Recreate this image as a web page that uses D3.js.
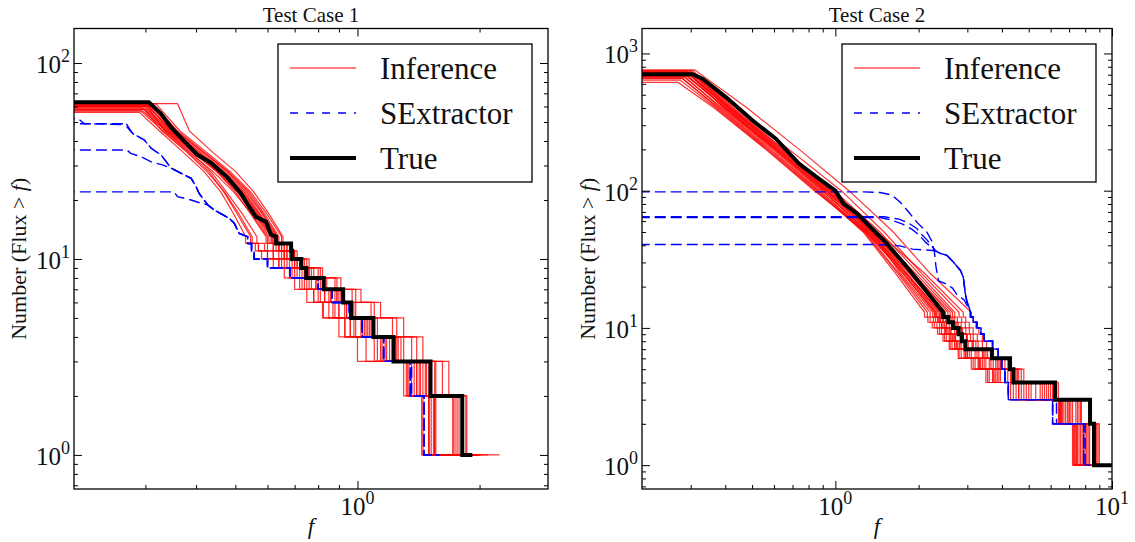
<!DOCTYPE html>
<html>
<head>
<meta charset="utf-8">
<script src="https://cdn.jsdelivr.net/npm/d3@7"></script>
<style>
  body { margin: 0; background: #fff; }
  svg text { font-family: "Liberation Serif", "Times New Roman", serif; fill: #111; }
</style>
</head>
<body>
<div id="chart"></div>
<script>
// ---------- data: Test Case 1 ----------
// heads: [flux, N] points of the smooth upper part, ending at N = 13
// tails: flux where each integer level 12, 11, ..., 1 ends
var case1TrueHead = [[0.1,63],[0.306,63],[0.328,55],[0.347,47],[0.378,39],[0.403,34],[0.435,31],[0.479,26],[0.516,21.6],[0.536,19],[0.562,16.4],[0.595,15.5],[0.612,13.3],[0.63,13]]
var case1TrueTail = [0.686,0.69,0.727,0.748,0.826,0.922,0.965,1.095,1.227,1.514,1.813,1.92]

var case1InferenceHeads = [
  [[0.1,62],[0.300,62],[0.335,45],[0.385,35],[0.440,28],[0.495,22],[0.548,17],[0.600,13]],
  [[0.1,61],[0.305,61],[0.345,45],[0.400,35],[0.455,28],[0.510,22],[0.560,17],[0.615,13]],
  [[0.1,60],[0.310,60],[0.352,45],[0.410,35],[0.470,28],[0.525,22],[0.575,17],[0.630,13]],
  [[0.1,59],[0.295,59],[0.330,45],[0.380,35],[0.425,28],[0.470,22],[0.510,17],[0.550,13]],
  [[0.1,61],[0.315,61],[0.360,45],[0.420,35],[0.480,28],[0.540,22],[0.590,17],[0.640,13]],
  [[0.1,58],[0.300,58],[0.340,45],[0.395,35],[0.450,28],[0.500,22],[0.545,17],[0.595,13]],
  [[0.1,56],[0.290,56],[0.325,45],[0.372,35],[0.418,28],[0.460,22],[0.495,17],[0.530,13]],
  [[0.1,62],[0.360,62],[0.385,45],[0.440,35],[0.500,28],[0.555,22],[0.605,17],[0.655,13]],
  [[0.1,60],[0.305,60],[0.348,45],[0.405,35],[0.462,28],[0.518,22],[0.568,17],[0.622,13]],
  [[0.1,59],[0.300,59],[0.342,45],[0.398,35],[0.452,28],[0.508,22],[0.558,17],[0.612,13]],
  [[0.1,61],[0.310,61],[0.355,45],[0.415,35],[0.475,28],[0.530,22],[0.582,17],[0.635,13]],
  [[0.1,57],[0.295,57],[0.338,45],[0.392,35],[0.448,28],[0.505,22],[0.555,17],[0.605,13]],
  [[0.1,60],[0.315,60],[0.358,45],[0.418,35],[0.478,28],[0.535,22],[0.585,17],[0.635,13]],
  [[0.1,58],[0.298,58],[0.336,45],[0.388,35],[0.435,28],[0.475,22],[0.520,17],[0.565,13]],
  [[0.1,61],[0.302,61],[0.350,45],[0.408,35],[0.465,28],[0.522,22],[0.572,17],[0.628,13]],
  [[0.1,57],[0.292,57],[0.332,45],[0.382,35],[0.430,28],[0.468,22],[0.505,17],[0.545,13]],
  [[0.1,62],[0.318,62],[0.365,45],[0.425,35],[0.485,28],[0.545,22],[0.598,17],[0.650,13]],
  [[0.1,60],[0.300,60],[0.345,45],[0.402,35],[0.458,28],[0.515,22],[0.565,17],[0.618,13]]
]
var case1InferenceTails = [
  [0.62,0.64,0.67,0.71,0.76,0.83,0.90,0.99,1.12,1.30,1.50,1.95],
  [0.64,0.66,0.70,0.74,0.80,0.86,0.94,1.04,1.20,1.42,1.55,1.93],
  [0.66,0.69,0.72,0.77,0.83,0.90,0.98,1.08,1.24,1.48,1.72,2.00],
  [0.57,0.60,0.64,0.68,0.73,0.78,0.85,0.93,1.05,1.33,1.45,1.92],
  [0.67,0.70,0.74,0.80,0.88,0.97,1.08,1.22,1.36,1.56,1.76,2.24],
  [0.60,0.62,0.65,0.68,0.72,0.78,0.824,0.932,1.28,1.40,1.50,1.95],
  [0.56,0.58,0.62,0.66,0.70,0.75,0.82,0.90,1.00,1.32,1.44,1.93],
  [0.68,0.71,0.76,0.82,0.91,1.02,1.14,1.30,1.45,1.68,1.82,2.10],
  [0.65,0.67,0.71,0.75,0.81,0.88,0.96,1.06,1.22,1.45,1.56,1.97],
  [0.63,0.66,0.69,0.73,0.79,0.85,0.93,1.02,1.17,1.40,1.74,1.99],
  [0.66,0.69,0.73,0.78,0.84,0.91,0.99,1.12,1.30,1.55,1.86,1.98],
  [0.62,0.65,0.68,0.72,0.77,0.83,0.90,0.98,1.14,1.36,1.52,1.94],
  [0.65,0.68,0.72,0.76,0.82,0.89,0.97,1.05,1.25,1.50,1.78,1.96],
  [0.59,0.62,0.66,0.70,0.75,0.81,0.88,0.96,1.10,1.34,1.50,1.92],
  [0.64,0.67,0.71,0.76,0.82,0.89,0.97,1.07,1.26,1.47,1.55,1.95],
  [0.57,0.60,0.64,0.69,0.74,0.80,0.87,0.96,1.15,1.38,1.72,1.97],
  [0.67,0.70,0.75,0.81,0.89,0.99,1.10,1.25,1.40,1.62,1.85,2.02],
  [0.64,0.66,0.70,0.74,0.79,0.86,0.94,1.03,1.18,1.43,1.54,1.95]
]

var case1SExtractorHeads = [
  [[0.1,52],[0.205,52],[0.212,49],[0.27,48.5]],
  [[0.1,49],[0.266,49]],
  [[0.1,36],[0.27,36],[0.276,34.6],[0.292,33.3],[0.31,31.3],[0.33,30.2],[0.347,29.1]],
  [[0.1,22],[0.353,22],[0.36,20.8],[0.389,20],[0.41,19.3],[0.427,18.9]]
]
var case1SExtractorShared = [[0.279,43.7],[0.298,40.5],[0.31,36.7],[0.328,33.9],[0.347,29.1],[0.367,27.4],[0.389,25.8],[0.40,23.4],[0.407,21.6],[0.427,18.9],[0.443,17.8],[0.483,16.1],[0.497,15.2],[0.511,13.5],[0.536,13]]
var case1SExtractorTails = [
  [0.548,0.556,0.60,0.683,0.80,0.866,0.955,1.027,1.16,1.35,1.46,1.59],
  [0.548,0.556,0.60,0.683,0.80,0.866,0.955,1.027,1.16,1.35,1.46,1.59],
  [0.548,0.556,0.60,0.683,0.80,0.866,0.955,1.027,1.16,1.36,1.456,1.59],
  [0.548,0.556,0.60,0.683,0.80,0.866,0.955,1.027,1.16,1.35,1.46,1.59]
]

// ---------- data: Test Case 2 ----------
var case2TrueHead = [[0.1,704],[0.305,704],[0.331,655],[0.402,481],[0.501,326],[0.609,239],[0.740,157],[0.873,122],[1.0,100],[1.07,80.5],[1.198,68.2],[1.375,51.5],[1.536,41.1],[1.815,27.8],[2.027,21.0],[2.264,15.9],[2.45,13]]
var case2TrueTail = [2.56,2.66,2.79,2.87,2.95,3.68,4.28,4.40,6.23,8.33,8.61,10.5]

var case2InferenceHeads = [
  [[0.1,740],[0.290,740],[0.395,400],[0.600,200],[0.900,100],[1.30,50],[1.75,25],[2.30,13]],
  [[0.1,720],[0.295,720],[0.405,400],[0.615,200],[0.930,100],[1.33,50],[1.80,25],[2.40,13]],
  [[0.1,700],[0.300,700],[0.415,400],[0.630,200],[0.955,100],[1.36,50],[1.85,25],[2.45,13]],
  [[0.1,680],[0.285,680],[0.385,400],[0.585,200],[0.880,100],[1.28,50],[1.70,25],[2.20,13]],
  [[0.1,660],[0.280,660],[0.375,400],[0.570,200],[0.860,100],[1.26,50],[1.65,25],[2.10,13]],
  [[0.1,750],[0.305,750],[0.430,400],[0.650,200],[0.980,100],[1.40,50],[1.92,25],[2.55,13]],
  [[0.1,730],[0.300,730],[0.420,400],[0.640,200],[0.970,100],[1.38,50],[1.88,25],[2.50,13]],
  [[0.1,710],[0.295,710],[0.410,400],[0.620,200],[0.940,100],[1.34,50],[1.82,25],[2.38,13]],
  [[0.1,690],[0.290,690],[0.400,400],[0.605,200],[0.910,100],[1.31,50],[1.78,25],[2.32,13]],
  [[0.1,640],[0.275,640],[0.370,400],[0.565,200],[0.850,100],[1.27,50],[1.68,25],[2.15,13]],
  [[0.1,760],[0.310,760],[0.480,400],[0.740,200],[1.120,100],[1.62,50],[2.20,25],[3.10,13]],
  [[0.1,720],[0.300,720],[0.440,400],[0.680,200],[1.050,100],[1.50,50],[2.05,25],[2.80,13]],
  [[0.1,700],[0.290,700],[0.398,400],[0.610,200],[0.920,100],[1.35,50],[1.90,25],[2.60,13]],
  [[0.1,670],[0.285,670],[0.390,400],[0.595,200],[0.895,100],[1.32,50],[1.86,25],[2.50,13]],
  [[0.1,745],[0.300,745],[0.425,400],[0.645,200],[0.990,100],[1.45,50],[2.00,25],[2.70,13]],
  [[0.1,615],[0.270,615],[0.365,400],[0.560,200],[0.840,100],[1.30,50],[1.80,25],[2.35,13]],
  [[0.1,705],[0.295,705],[0.412,400],[0.625,200],[0.945,100],[1.37,50],[1.95,25],[2.65,13]],
  [[0.1,685],[0.290,685],[0.402,400],[0.612,200],[0.925,100],[1.42,50],[2.10,25],[2.90,13]],
  [[0.1,725],[0.300,725],[0.418,400],[0.635,200],[0.965,100],[1.36,50],[1.72,25],[2.25,13]],
  [[0.1,655],[0.280,655],[0.380,400],[0.578,200],[0.870,100],[1.29,50],[1.76,25],[2.28,13]]
]
var case2InferenceTails = [
  [2.36,2.42,2.50,2.60,2.70,2.95,3.30,3.70,4.60,6.50,7.30,10.5],
  [2.46,2.52,2.62,2.72,2.85,3.10,3.50,3.90,5.00,6.80,7.60,10.8],
  [2.50,2.58,2.70,2.82,2.95,3.25,3.65,4.20,5.50,7.00,8.00,11],
  [2.26,2.33,2.42,2.52,2.64,2.85,3.20,3.60,4.40,6.40,7.20,10.3],
  [2.16,2.24,2.34,2.45,2.58,2.78,3.10,3.50,4.30,6.45,7.35,10.4],
  [2.62,2.72,2.85,2.98,3.15,3.45,3.90,4.50,5.80,7.40,8.60,11],
  [2.56,2.65,2.76,2.88,3.02,3.30,3.72,4.30,5.60,7.20,8.30,10.9],
  [2.44,2.52,2.60,2.70,2.82,3.05,3.45,3.85,4.90,6.60,7.50,10.6],
  [2.38,2.45,2.55,2.65,2.76,3.00,3.35,3.80,4.80,6.70,7.80,10.7],
  [2.20,2.28,2.38,2.48,2.60,2.80,3.15,3.55,4.50,6.55,7.40,10.4],
  [3.15,3.22,3.30,3.40,3.52,3.72,4.10,4.80,6.00,7.60,8.90,11.5],
  [2.86,2.95,3.05,3.15,3.28,3.55,4.00,4.60,6.20,7.70,9.00,11],
  [2.66,2.75,2.86,2.98,3.12,3.40,3.80,4.40,5.90,7.10,8.20,10.8],
  [2.56,2.64,2.74,2.85,2.98,3.20,3.60,4.10,5.30,6.90,7.90,10.5],
  [2.76,2.85,2.96,3.08,3.22,3.50,3.95,4.55,6.10,7.50,8.70,11.2],
  [2.40,2.48,2.58,2.68,2.80,3.00,3.40,3.95,5.10,6.60,7.70,10.6],
  [2.70,2.78,2.88,3.00,3.14,3.42,3.85,4.45,5.70,7.00,8.10,10.9],
  [2.96,3.05,3.15,3.26,3.40,3.65,4.20,4.70,6.40,7.75,8.80,11.3],
  [2.30,2.38,2.48,2.58,2.70,2.92,3.28,3.75,4.70,6.45,7.25,10.3],
  [2.34,2.42,2.52,2.62,2.74,2.96,3.32,3.72,4.60,6.50,7.45,10.4]
]

var case2SExtractorHeads = [
  [[0.1,98],[1.26,98],[1.45,97],[1.6,93],[1.72,82],[1.84,70],[1.97,59],[2.14,50],[2.23,43],[2.28,36],[2.31,28],[2.36,22],[2.5,21],[2.65,19.5],[2.75,17.5],[2.92,16],[3.0,14.5]],
  [[0.1,64.5],[1.5,64.5],[1.7,62],[1.84,58],[1.97,53],[2.05,48],[2.14,44],[2.22,40],[2.3,36.5]],
  [[0.1,63.8],[1.45,63.8],[1.6,61],[1.75,57],[1.9,52],[2.02,47],[2.12,42],[2.25,38],[2.3,36.5]],
  [[0.1,40.5],[1.38,40.5],[1.6,40],[1.71,39.6],[1.9,37.5],[2.1,37],[2.3,36.5]]
]
var case2SExtractorShared = [[2.39,35],[2.53,33.8],[2.67,30.2],[2.83,26.3],[2.90,23.5],[2.95,17.8],[2.99,15.5],[3.05,14],[3.08,13]]
var case2SExtractorTails = [
  [3.15,3.25,3.36,3.45,3.70,3.88,3.99,4.10,4.22,6.10,7.90,8.30],
  [3.15,3.25,3.36,3.45,3.70,3.88,3.99,4.10,4.22,6.10,7.90,8.30],
  [3.15,3.25,3.36,3.45,3.70,3.88,3.99,4.10,4.22,6.30,8.00,8.30],
  [3.15,3.25,3.36,3.45,3.70,3.88,3.99,4.10,4.22,6.10,7.90,8.30]
]

var legendLabels = ["Inference", "SExtractor", "True"]

// ---------- layout ----------
var W = 1135, H = 542
var serif = "'Liberation Serif', 'Times New Roman', serif"
var panels = [
  { title: "Test Case 1", left: 74, right: 548, top: 28.5, bottom: 489, xDomain: [0.2, 2.95], yDomain: [0.67, 150], ylabX: 26,
    trueHead: case1TrueHead, trueTail: case1TrueTail,
    infHeads: case1InferenceHeads, infTails: case1InferenceTails,
    sexHeads: case1SExtractorHeads, sexShared: case1SExtractorShared, sexTails: case1SExtractorTails },
  { title: "Test Case 2", left: 642, right: 1112, top: 28.5, bottom: 489, xDomain: [0.2, 10], yDomain: [0.67, 1520], ylabX: 595,
    trueHead: case2TrueHead, trueTail: case2TrueTail,
    infHeads: case2InferenceHeads, infTails: case2InferenceTails,
    sexHeads: case2SExtractorHeads, sexShared: case2SExtractorShared, sexTails: case2SExtractorTails }
]

var svg = d3.select("#chart").append("svg")
  .attr("width", W).attr("height", H)
  .attr("font-family", serif)

// turn a head polyline + step tail into a list of corner points
function corners(head, tail) {
  var pts = head.slice()
  var last = head[head.length - 1]
  var x0 = last[0], level = last[1]
  tail.forEach(function (f) {
    level = level - 1
    pts.push([x0, level])
    pts.push([f, level])
    x0 = f
  })
  return pts
}

function logTicks(domain) {
  var majors = [], minors = []
  for (var k = -2; k <= 4; k++) {
    var p = Math.pow(10, k)
    if (p >= domain[0] && p <= domain[1]) majors.push(p)
    for (var m = 2; m < 10; m++) {
      var v = m * p
      if (v > domain[0] * 1.001 && v < domain[1] * 0.999) minors.push(v)
    }
  }
  return { majors: majors, minors: minors }
}

function powLabel(sel, v) {
  var e = Math.round(Math.log10(v))
  sel.append("tspan").text("10")
  sel.append("tspan").attr("dy", -11).attr("font-size", 18).text(e)
}

panels.forEach(function (p, pi) {
  var x = d3.scaleLog().domain(p.xDomain).range([p.left, p.right])
  var y = d3.scaleLog().domain(p.yDomain).range([p.bottom, p.top])
  var line = d3.line().x(d => x(d[0])).y(d => y(d[1]))

  svg.append("clipPath").attr("id", "clip" + pi)
    .append("rect")
    .attr("x", p.left).attr("y", p.top)
    .attr("width", p.right - p.left).attr("height", p.bottom - p.top)

  var plot = svg.append("g").attr("clip-path", "url(#clip" + pi + ")")

  // inference samples
  p.infHeads.forEach(function (h, i) {
    plot.append("path")
      .attr("d", line(corners(h, p.infTails[i])))
      .attr("fill", "none")
      .attr("stroke", "#ff0000")
      .attr("stroke-opacity", 0.8)
      .attr("stroke-width", 1.2)
  })

  // SExtractor catalogues
  p.sexHeads.forEach(function (h, i) {
    var lastF = h[h.length - 1][0]
    var pts = h.concat(p.sexShared.filter(d => d[0] > lastF))
    plot.append("path")
      .attr("d", line(corners(pts, p.sexTails[i])))
      .attr("fill", "none")
      .attr("stroke", "#0000ff")
      .attr("stroke-width", 1.4)
      .attr("stroke-dasharray", "11,5")
  })

  // truth
  plot.append("path")
    .attr("d", line(corners(p.trueHead, p.trueTail)))
    .attr("fill", "none")
    .attr("stroke", "#000")
    .attr("stroke-width", 4)

  // ticks on all four sides, pointing inward
  var xt = logTicks(p.xDomain), yt = logTicks(p.yDomain)
  var axes = [
    [d3.axisBottom(x), "translate(0," + p.bottom + ")", xt],
    [d3.axisTop(x), "translate(0," + p.top + ")", xt],
    [d3.axisLeft(y), "translate(" + p.left + ",0)", yt],
    [d3.axisRight(y), "translate(" + p.right + ",0)", yt]
  ]
  axes.forEach(function (a) {
    [[a[2].majors, 8], [a[2].minors, 4]].forEach(function (t) {
      var g = svg.append("g").attr("transform", a[1])
        .call(a[0].tickValues(t[0]).tickSize(-t[1]).tickSizeOuter(0).tickFormat(""))
      g.select(".domain").remove()
      g.selectAll("line").attr("stroke", "#000").attr("stroke-width", 1)
    })
  })

  // frame
  svg.append("rect")
    .attr("x", p.left).attr("y", p.top)
    .attr("width", p.right - p.left).attr("height", p.bottom - p.top)
    .attr("fill", "none").attr("stroke", "#000").attr("stroke-width", 1.3)

  // tick labels
  xt.majors.forEach(function (v) {
    var t = svg.append("text").attr("x", x(v)).attr("y", 515)
      .attr("text-anchor", "middle").attr("font-size", 25).attr("font-family", serif)
    powLabel(t, v)
  })
  yt.majors.forEach(function (v) {
    var t = svg.append("text").attr("x", p.left - 4).attr("y", y(v) + 10)
      .attr("text-anchor", "end").attr("font-size", 25).attr("font-family", serif)
    powLabel(t, v)
  })

  // titles
  var cx = (p.left + p.right) / 2
  svg.append("text").attr("x", cx).attr("y", 22).attr("font-family", serif)
    .attr("text-anchor", "middle").attr("font-size", 21).text(p.title)
  svg.append("text").attr("x", cx).attr("y", 534).attr("font-family", serif)
    .attr("text-anchor", "middle").attr("font-size", 23)
    .attr("font-style", "italic").text("f")
  var yl = svg.append("text").attr("font-family", serif)
    .attr("transform", "translate(" + p.ylabX + "," + ((p.top + p.bottom) / 2) + ") rotate(-90)")
    .attr("text-anchor", "middle").attr("font-size", 22)
  yl.append("tspan").text("Number (Flux > ")
  yl.append("tspan").attr("font-style", "italic").text("f")
  yl.append("tspan").text(")")

  // legend
  var lx = p.right - 16 - 254, ly = 44
  var lg = svg.append("g")
  lg.append("rect").attr("x", lx).attr("y", ly).attr("width", 254).attr("height", 138)
    .attr("fill", "#fff").attr("stroke", "#000").attr("stroke-width", 1.3)
  var styles = [
    { stroke: "#ff0000", width: 1.2, dash: null },
    { stroke: "#0000ff", width: 1.4, dash: "8,8" },
    { stroke: "#000", width: 4, dash: null }
  ]
  legendLabels.forEach(function (lab, i) {
    var ry = ly + 24 + i * 45
    lg.append("line").attr("x1", lx + 12).attr("x2", lx + 78)
      .attr("y1", ry).attr("y2", ry)
      .attr("stroke", styles[i].stroke).attr("stroke-width", styles[i].width)
      .attr("stroke-dasharray", styles[i].dash)
    lg.append("text").attr("x", lx + 102).attr("y", ry + 11).attr("font-family", serif)
      .attr("font-size", 31).text(lab)
  })
})
</script>
</body>
</html>
